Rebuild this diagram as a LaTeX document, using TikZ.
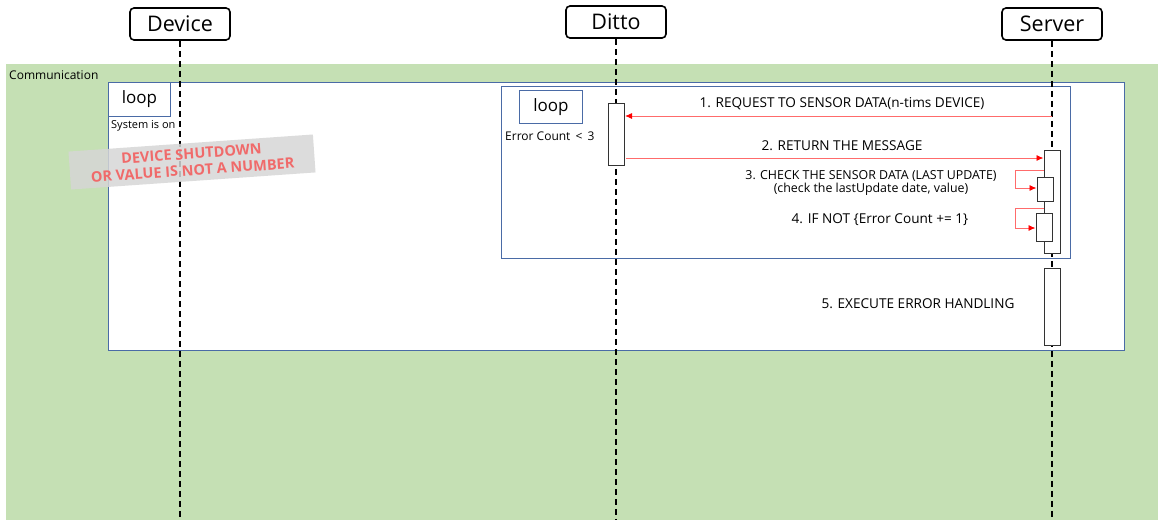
\documentclass[tikz,border=0pt]{standalone}
\usepackage{fontspec}
\setmainfont{Open Sans}
\usetikzlibrary{arrows.meta}
\definecolor{bggreen}{HTML}{C5E0B4}
\definecolor{frameblue}{HTML}{4A6BA6}
\definecolor{msgred}{HTML}{FF0000}
\definecolor{linered}{HTML}{FF6B6B}
\definecolor{stampred}{HTML}{F06A6A}
\definecolor{stampgrey}{HTML}{D6D6D6}
\begin{document}
\begin{tikzpicture}[x=1pt,y=-1pt,
  head/.style={draw=black, line width=1.6pt, rounded corners=4pt, fill=white, minimum width=100pt, minimum height=32pt, inner sep=0pt, font=\fontsize{21.5}{24}\selectfont},
  life/.style={black, line width=1.6pt, dash pattern=on 6pt off 4pt},
  frame/.style={draw=frameblue, line width=1pt, fill=white},
  tag/.style={draw=frameblue, line width=1pt, fill=white, inner sep=0pt, font=\fontsize{17}{19}\selectfont},
  act/.style={draw=black!80, line width=1pt, fill=white, minimum width=16pt, inner sep=0pt},
  msg/.style={linered, line width=0.9pt, -{Latex[length=7pt,width=6pt,color=msgred]}},
  lbl/.style={inner sep=0pt, font=\fontsize{13.6}{15}\selectfont},
  small/.style={inner sep=0pt, font=\fontsize{12}{14}\selectfont}]
\useasboundingbox (0,0) rectangle (1158,520);
\fill[bggreen] (6,64) rectangle (1158,520);
\node[small, anchor=west] (comm) at (9,75) {Communication};
% outer loop
\path[frame] (108,82) rectangle (1124,350);
\node[tag, minimum width=62pt, minimum height=34pt, anchor=north west] (tag1) at (108,82) {loop};
\node[small, anchor=west, font=\fontsize{11}{13}\selectfont] (cond1) at (111,126) {System is on};
% inner loop
\path[frame] (501,86) rectangle (1070,258);
\node[tag, minimum width=63pt, minimum height=33pt, anchor=north west] (tag2) at (519,90) {loop};
\node[small, anchor=west] (cond2) at (505,136) {Error Count \,<\, 3};
% headers
\node[head] (dev) at (180,24) {Device};
\node[head] (dit) at (616,22) {Ditto};
\node[head] (srv) at (1052,24) {Server};
\coordinate (devend) at (180,520);
\coordinate (ditend) at (616,520);
\coordinate (srvend) at (1052,520);
\draw[life] (dev.south) -- (devend);
\draw[life] (dit.south) -- (ditend);
\draw[life] (srv.south) -- (srvend);
% activations
\node[act, minimum height=62pt] (a1) at (616.5,134) {};
\node[act, minimum height=103pt] (s1) at (1052,201.5) {};
\node[act, minimum height=24pt] (s2) at (1045,189) {};
\node[act, minimum height=28pt] (s3) at (1044,227) {};
\node[act, minimum height=77pt] (s4) at (1052,306.5) {};
% messages
\coordinate (m1) at (1052,116);
\draw[msg] (m1) -- (a1.east |- m1);
\node[lbl] (l1) at (842,104) {1. REQUEST TO SENSOR DATA(n-tims DEVICE)};
\coordinate (m2) at (626,158);
\draw[msg] (m2) -- (s1.west |- m2);
\node[lbl] (l2) at (842,146) {2. RETURN THE MESSAGE};
\coordinate (r1a) at (1044,170);
\coordinate (r1b) at (1015,170);
\coordinate (r1c) at (1015,188);
\draw[msg] (r1a) -- (r1b) -- (r1c) -- (s2.west |- r1c);
\node[lbl, font=\fontsize{12.4}{13.5}\selectfont, align=center] (l3) at (871,183) {3. CHECK THE SENSOR DATA (LAST UPDATE)\\(check the lastUpdate date, value)};
\coordinate (r2a) at (1044,208);
\coordinate (r2b) at (1015,208);
\coordinate (r2c) at (1015,228);
\draw[msg] (r2a) -- (r2b) -- (r2c) -- (s3.west |- r2c);
\node[lbl] (l4) at (880,220) {4. IF NOT \{Error Count += 1\}};
\node[lbl] (l5) at (918,304) {5. EXECUTE ERROR HANDLING};
% stamp
\node[rotate=4, fill=stampgrey, fill opacity=0.85, text opacity=1, minimum width=245pt, minimum height=38pt, inner sep=0pt, align=center, text=stampred, font=\bfseries\fontsize{14.5}{16.5}\selectfont] (stamp) at (192,162) {DEVICE SHUTDOWN\\OR VALUE IS NOT A NUMBER};
\end{tikzpicture}
\end{document}
